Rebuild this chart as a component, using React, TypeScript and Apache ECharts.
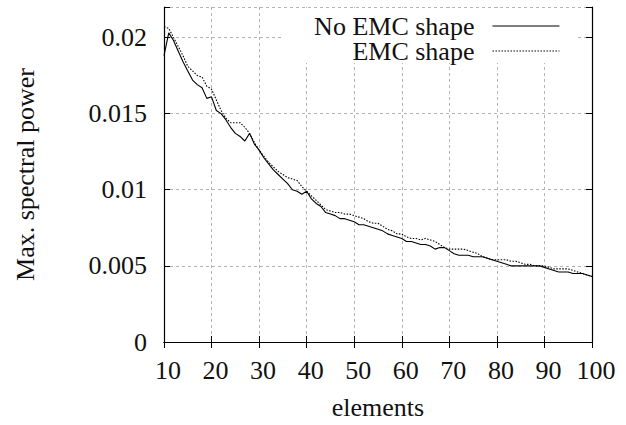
import React, { useEffect, useRef } from "react";
import * as echarts from "echarts";

const elements: number[] = Array.from({ length: 91 }, (_, i) => 10 + i);

const noEmcShape: number[] = [
  0.0188, 0.0203, 0.0198, 0.0191, 0.0184, 0.0178, 0.0172, 0.0169, 0.0167, 0.016,
  0.0161, 0.0152, 0.015, 0.0146, 0.0141, 0.0137, 0.0135, 0.0132, 0.0137, 0.013,
  0.0126, 0.0121, 0.0117, 0.0113, 0.011, 0.0107, 0.0104, 0.01, 0.0099, 0.0097,
  0.0099, 0.0094, 0.0091, 0.0089, 0.0085, 0.0084, 0.0083, 0.0081, 0.0081, 0.008,
  0.0079, 0.0077, 0.0077, 0.0076, 0.0075, 0.0074, 0.0073, 0.0071, 0.007, 0.0069,
  0.0068, 0.0066, 0.0066, 0.0065, 0.0064, 0.0064, 0.0063, 0.0061, 0.0062, 0.0062,
  0.006, 0.0058, 0.0057, 0.0057, 0.0057, 0.0056, 0.0056, 0.0056, 0.0055, 0.0054,
  0.0053, 0.0052, 0.0051, 0.005, 0.005, 0.005, 0.005, 0.005, 0.005, 0.005,
  0.0049, 0.0048, 0.0047, 0.0046, 0.0046, 0.0046, 0.0045, 0.0045, 0.0045, 0.0044,
  0.0043,
];

const emcShape: number[] = [
  0.0207, 0.0206, 0.02, 0.0194, 0.0188, 0.0181, 0.0178, 0.0175, 0.0174, 0.0168,
  0.0166, 0.0159, 0.0152, 0.0147, 0.0144, 0.0144, 0.0144, 0.0141, 0.0137, 0.0131,
  0.0126, 0.0122, 0.0118, 0.0115, 0.0112, 0.011, 0.0108, 0.0107, 0.0106, 0.0102,
  0.0099, 0.0096, 0.0093, 0.009, 0.0087, 0.0086, 0.0085, 0.0085, 0.0084, 0.0084,
  0.0083, 0.0082, 0.0081, 0.0079, 0.0078, 0.0078, 0.0076, 0.0074, 0.0073, 0.0071,
  0.0071, 0.0069, 0.0068, 0.0068, 0.0067, 0.0068, 0.0067, 0.0066, 0.0064, 0.0062,
  0.0061, 0.0061, 0.0061, 0.0061, 0.006, 0.0059, 0.0058, 0.0056, 0.0055, 0.0054,
  0.0054, 0.0054, 0.0054, 0.0053, 0.0053, 0.0052, 0.0051, 0.0051, 0.005, 0.005,
  0.005, 0.0049, 0.0048, 0.0048, 0.0048, 0.0048, 0.0047, 0.0046, 0.0045, 0.0044,
  0.0043,
];

const seriesNames = ["No EMC shape", "EMC shape"];
const xAxisName = "elements";
const yAxisName = "Max. spectral power";

const FONT = "Liberation Serif";
const FS = 26;

export default function App() {
  const ref = useRef<HTMLDivElement>(null);
  useEffect(() => {
    document.body.style.margin = "0";
    if (!ref.current) return;
    const chart = echarts.init(ref.current, undefined, { renderer: "svg" });
    const yFmt = (v: number) => {
      const r = Math.round(v / 0.005);
      if (Math.abs(v - r * 0.005) > 1e-9) return "";
      return String(parseFloat(v.toFixed(3)));
    };
    const txt = { fontFamily: FONT, fontSize: FS, color: "#111", fontWeight: "normal" as const };
    const tick = { show: true, inside: true, length: 6, lineStyle: { color: "#000", width: 1 } };
    const axisLine = { show: true, lineStyle: { color: "#000", width: 1.2 } };
    const splitLine = { show: true, lineStyle: { color: "#b4b4b4", width: 1, type: [3, 3] as any } };
    const legendBase = {
      right: 66,
      align: "right",
      padding: 0,
      itemWidth: 67,
      itemHeight: 14,
      z: 5,
      itemStyle: { opacity: 0 },
      lineStyle: { width: 1.1 },
      textStyle: { ...txt, lineHeight: 23, padding: [0, 13, 0, 0] },
    };
    chart.setOption({
      animation: false,
      backgroundColor: "#fff",
      textStyle: { fontFamily: FONT, fontSize: FS },
      grid: { left: 164, right: 34, top: 7, bottom: 82, containLabel: false },
      graphic: [
        {
          type: "rect",
          z: 3,
          shape: { x: 283, y: 8, width: 294, height: 55 },
          style: { fill: "#fff" },
          silent: true,
        },
      ],
      legend: [
        { ...legendBase, data: [seriesNames[0]], top: 13 },
        { ...legendBase, data: [seriesNames[1]], top: 38 },
      ],
      xAxis: [
        {
          type: "value",
          min: 10,
          max: 100,
          interval: 10,
          name: xAxisName,
          nameLocation: "middle",
          nameGap: 52,
          nameTextStyle: { ...txt },
          axisLine,
          axisTick: tick,
          splitLine,
          axisLabel: { ...txt, margin: 15, padding: [0, 0, 0, 8] },
        },
        {
          type: "value",
          position: "top",
          min: 10,
          max: 100,
          interval: 10,
          axisLine,
          axisTick: tick,
          splitLine: { show: false },
          axisLabel: { show: false },
        },
      ],
      yAxis: [
        {
          type: "value",
          min: 0,
          max: 0.022,
          interval: 0.005,
          name: yAxisName,
          nameLocation: "middle",
          nameRotate: 90,
          nameGap: 126,
          nameTextStyle: { ...txt },
          axisLine,
          axisTick: tick,
          splitLine,
          axisLabel: { ...txt, margin: 17, formatter: yFmt },
        },
        {
          type: "value",
          position: "right",
          min: 0,
          max: 0.022,
          interval: 0.005,
          axisLine,
          axisTick: tick,
          splitLine: { show: false },
          axisLabel: { show: false },
        },
      ],
      series: [
        {
          name: seriesNames[0],
          type: "line",
          symbol: "none",
          data: elements.map((x, i) => [x, noEmcShape[i]]),
          lineStyle: { color: "#000", width: 1.1 },
          itemStyle: { color: "#000" },
          z: 2,
        },
        {
          name: seriesNames[1],
          type: "line",
          symbol: "none",
          data: elements.map((x, i) => [x, emcShape[i]]),
          lineStyle: { color: "#000", width: 1.1, type: [1.5, 1.5] },
          itemStyle: { color: "#000" },
          z: 2,
        },
      ],
    });
    return () => chart.dispose();
  }, []);
  return <div ref={ref} style={{ width: 626, height: 425 }} />;
}
